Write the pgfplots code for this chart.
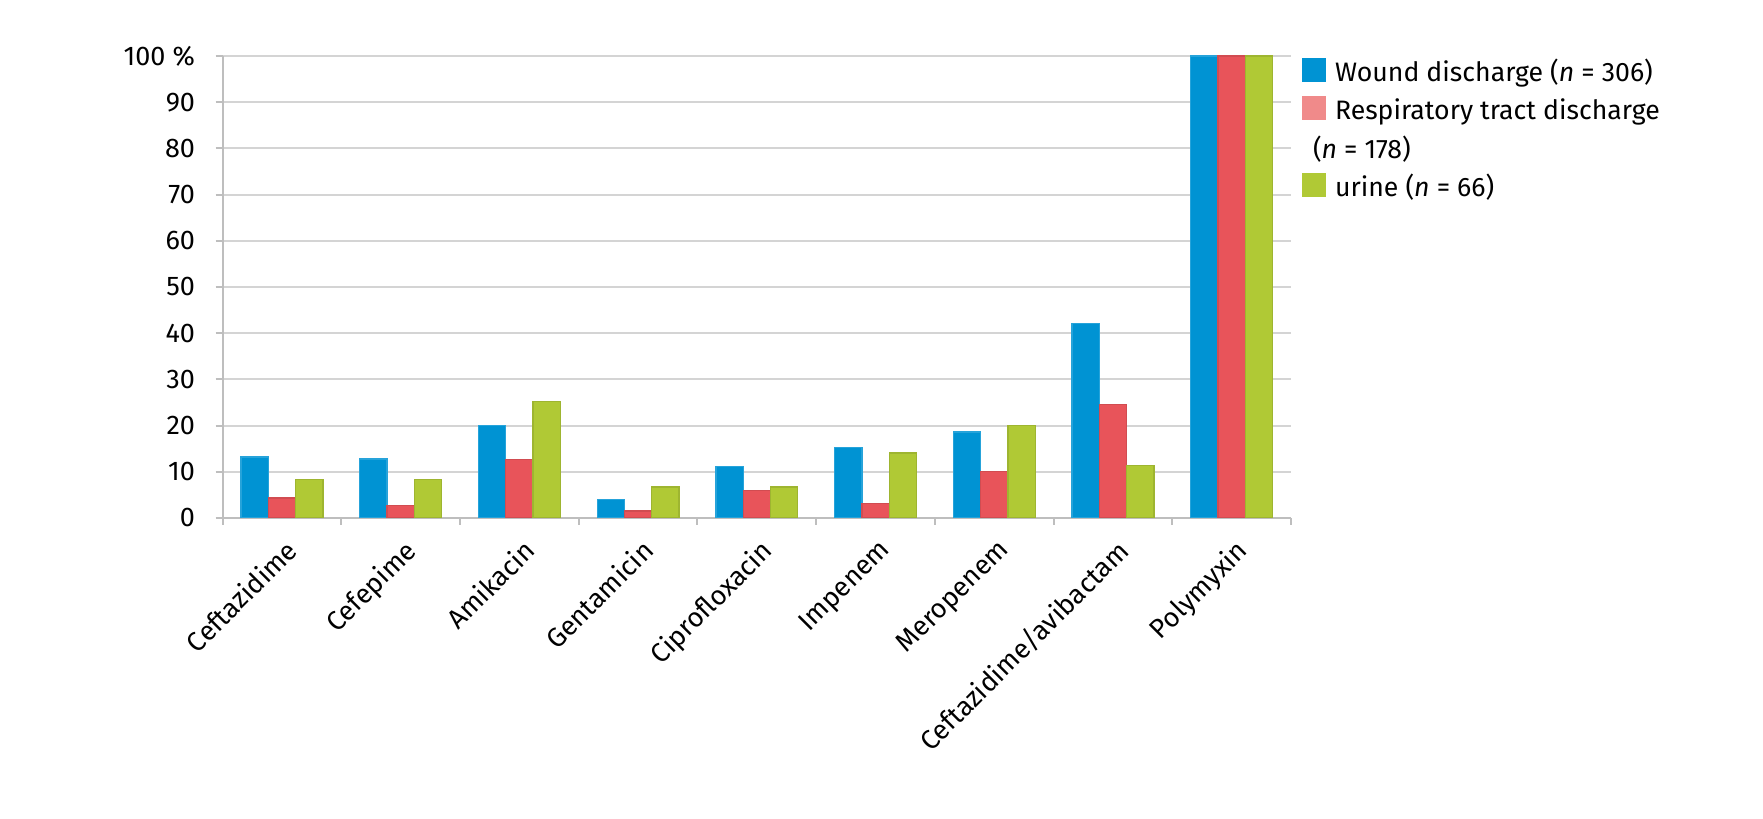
\documentclass[border=0pt]{standalone}
\usepackage{fontspec}
\setmainfont{Fira Sans}
\usepackage{pgfplots}
\pgfplotsset{compat=1.18}
\definecolor{cblue}{RGB}{0,147,211}
\definecolor{cred}{RGB}{232,84,90}
\definecolor{cgreen}{RGB}{176,201,53}
\definecolor{cpink}{RGB}{240,138,138}
\definecolor{cgrid}{RGB}{212,212,212}
\definecolor{caxis}{RGB}{190,190,190}
\newcommand{\tfont}{\fontsize{8.1}{10}\selectfont}
\newcommand{\lfont}{\fontsize{8}{11.5}\selectfont}
\begin{document}
\begin{tikzpicture}
\path[use as bounding box] (0pt,0pt) rectangle (528.9pt,245.7pt);
\begin{axis}[
  at={(66.8pt,90.3pt)}, anchor=south west,
  scale only axis, width=320.5pt, height=138.6pt,
  xmin=-0.5, xmax=8.5, ymin=0, ymax=100,
  axis lines*=left,
  axis line style={caxis, line width=0.6pt},
  tick style={caxis, line width=0.6pt},
  tick align=outside, major tick length=2.1pt, minor tick length=2.1pt,
  every major x tick/.append style={draw=none},
  xtick={0,...,8},
  minor xtick={-0.5,0.5,...,8.5},
  xticklabels={Ceftazidime,Cefepime,Amikacin,Gentamicin,Ciprofloxacin,Impenem,Meropenem,Ceftazidime/avibactam,Polymyxin},
  xticklabel style={rotate=45, anchor=north east, inner sep=0pt, font=\tfont, xshift=-2pt, yshift=-3pt},
  ytick={0,10,...,100},
  yticklabels={0,10,20,30,40,50,60,70,80,90,100 \%},
  yticklabel style={anchor=east, inner sep=0pt, font=\tfont, xshift=-6pt},
  /pgf/number format/assume math mode=true,
  ymajorgrids, grid style={cgrid, line width=0.6pt},
  ybar, bar width=0.23,
  legend style={at={(rel axis cs:1,1)}, anchor=north west, xshift=3pt, yshift=0.6pt, draw=none, fill=none,
    font=\lfont, row sep=2pt, inner sep=0pt, nodes={inner sep=0pt},
    /tikz/every odd column/.append style={column sep=2.8pt}},
  legend cell align=left,
]
\addplot[fill=cblue, draw=cblue!85!white, line width=0.4pt, bar shift=-0.23,
  legend image code/.code={\fill[cblue] (0pt,-3.2pt) rectangle (6.8pt,3.6pt);}]
  coordinates {(0,13.2) (1,12.8) (2,20.0) (3,4.0) (4,11.2) (5,15.3) (6,18.6) (7,42.1) (8,100)};
\addlegendentry{\strut Wound discharge (\textit{n} = 306)}
\addplot[fill=cred, draw=cred!90!black, line width=0.4pt, bar shift=0,
  legend image code/.code={\fill[cpink] (0pt,-3.2pt) rectangle (6.8pt,3.6pt);}]
  coordinates {(0,4.3) (1,2.7) (2,12.7) (3,1.5) (4,6.0) (5,3.2) (6,10.1) (7,24.6) (8,100)};
\addlegendentry{\strut Respiratory tract discharge}
\addlegendimage{empty legend}
\addlegendentry{\strut\hspace*{-6.6pt}(\textit{n} = 178)}
\addplot[fill=cgreen, draw=cgreen!90!black, line width=0.4pt, bar shift=0.23,
  legend image code/.code={\fill[cgreen] (0pt,-3.2pt) rectangle (6.8pt,3.6pt);}]
  coordinates {(0,8.3) (1,8.3) (2,25.2) (3,6.7) (4,6.7) (5,14.1) (6,20.0) (7,11.4) (8,100)};
\addlegendentry{\strut urine (\textit{n} = 66)}
\end{axis}
\end{tikzpicture}
\end{document}
